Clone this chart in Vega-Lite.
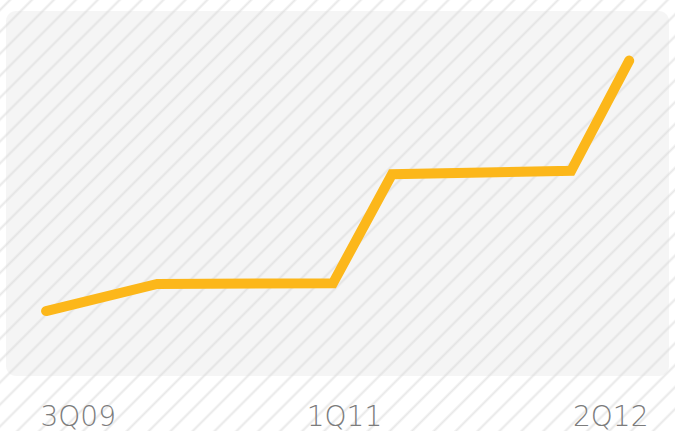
{
  "$schema": "https://vega.github.io/schema/vega-lite/v6.json",
  "width": 675,
  "height": 431,
  "autosize": {"type": "none"},
  "padding": 0,
  "background": "#ffffff",
  "view": {
    "stroke": null,
    "fill": {
      "gradient": "linear",
      "x1": 0, "y1": 0, "x2": 1.164, "y2": 0.7433,
      "stops": [
        {"offset": 0, "color": "#ffffff"},
        {"offset": 0.0064, "color": "#ffffff"}, {"offset": 0.0090, "color": "#e8e8e8"}, {"offset": 0.0115, "color": "#ffffff"},
        {"offset": 0.0262, "color": "#ffffff"}, {"offset": 0.0288, "color": "#e8e8e8"}, {"offset": 0.0313, "color": "#ffffff"},
        {"offset": 0.0460, "color": "#ffffff"}, {"offset": 0.0486, "color": "#e8e8e8"}, {"offset": 0.0511, "color": "#ffffff"},
        {"offset": 0.0659, "color": "#ffffff"}, {"offset": 0.0685, "color": "#e8e8e8"}, {"offset": 0.0710, "color": "#ffffff"},
        {"offset": 0.0857, "color": "#ffffff"}, {"offset": 0.0883, "color": "#e8e8e8"}, {"offset": 0.0908, "color": "#ffffff"},
        {"offset": 0.1055, "color": "#ffffff"}, {"offset": 0.1081, "color": "#e8e8e8"}, {"offset": 0.1106, "color": "#ffffff"},
        {"offset": 0.1253, "color": "#ffffff"}, {"offset": 0.1279, "color": "#e8e8e8"}, {"offset": 0.1304, "color": "#ffffff"},
        {"offset": 0.1451, "color": "#ffffff"}, {"offset": 0.1477, "color": "#e8e8e8"}, {"offset": 0.1502, "color": "#ffffff"},
        {"offset": 0.1650, "color": "#ffffff"}, {"offset": 0.1676, "color": "#e8e8e8"}, {"offset": 0.1701, "color": "#ffffff"},
        {"offset": 0.1848, "color": "#ffffff"}, {"offset": 0.1874, "color": "#e8e8e8"}, {"offset": 0.1899, "color": "#ffffff"},
        {"offset": 0.2046, "color": "#ffffff"}, {"offset": 0.2072, "color": "#e8e8e8"}, {"offset": 0.2097, "color": "#ffffff"},
        {"offset": 0.2244, "color": "#ffffff"}, {"offset": 0.2270, "color": "#e8e8e8"}, {"offset": 0.2295, "color": "#ffffff"},
        {"offset": 0.2442, "color": "#ffffff"}, {"offset": 0.2468, "color": "#e8e8e8"}, {"offset": 0.2493, "color": "#ffffff"},
        {"offset": 0.2641, "color": "#ffffff"}, {"offset": 0.2667, "color": "#e8e8e8"}, {"offset": 0.2692, "color": "#ffffff"},
        {"offset": 0.2839, "color": "#ffffff"}, {"offset": 0.2865, "color": "#e8e8e8"}, {"offset": 0.2890, "color": "#ffffff"},
        {"offset": 0.3037, "color": "#ffffff"}, {"offset": 0.3063, "color": "#e8e8e8"}, {"offset": 0.3088, "color": "#ffffff"},
        {"offset": 0.3235, "color": "#ffffff"}, {"offset": 0.3261, "color": "#e8e8e8"}, {"offset": 0.3286, "color": "#ffffff"},
        {"offset": 0.3433, "color": "#ffffff"}, {"offset": 0.3459, "color": "#e8e8e8"}, {"offset": 0.3484, "color": "#ffffff"},
        {"offset": 0.3632, "color": "#ffffff"}, {"offset": 0.3658, "color": "#e8e8e8"}, {"offset": 0.3683, "color": "#ffffff"},
        {"offset": 0.3830, "color": "#ffffff"}, {"offset": 0.3856, "color": "#e8e8e8"}, {"offset": 0.3881, "color": "#ffffff"},
        {"offset": 0.4028, "color": "#ffffff"}, {"offset": 0.4054, "color": "#e8e8e8"}, {"offset": 0.4079, "color": "#ffffff"},
        {"offset": 0.4226, "color": "#ffffff"}, {"offset": 0.4252, "color": "#e8e8e8"}, {"offset": 0.4277, "color": "#ffffff"},
        {"offset": 0.4424, "color": "#ffffff"}, {"offset": 0.4450, "color": "#e8e8e8"}, {"offset": 0.4475, "color": "#ffffff"},
        {"offset": 0.4623, "color": "#ffffff"}, {"offset": 0.4649, "color": "#e8e8e8"}, {"offset": 0.4674, "color": "#ffffff"},
        {"offset": 0.4821, "color": "#ffffff"}, {"offset": 0.4847, "color": "#e8e8e8"}, {"offset": 0.4872, "color": "#ffffff"},
        {"offset": 0.5019, "color": "#ffffff"}, {"offset": 0.5045, "color": "#e8e8e8"}, {"offset": 0.5070, "color": "#ffffff"},
        {"offset": 0.5217, "color": "#ffffff"}, {"offset": 0.5243, "color": "#e8e8e8"}, {"offset": 0.5268, "color": "#ffffff"},
        {"offset": 0.5415, "color": "#ffffff"}, {"offset": 0.5441, "color": "#e8e8e8"}, {"offset": 0.5466, "color": "#ffffff"},
        {"offset": 0.5614, "color": "#ffffff"}, {"offset": 0.5640, "color": "#e8e8e8"}, {"offset": 0.5665, "color": "#ffffff"},
        {"offset": 0.5812, "color": "#ffffff"}, {"offset": 0.5838, "color": "#e8e8e8"}, {"offset": 0.5863, "color": "#ffffff"},
        {"offset": 0.6010, "color": "#ffffff"}, {"offset": 0.6036, "color": "#e8e8e8"}, {"offset": 0.6061, "color": "#ffffff"},
        {"offset": 0.6208, "color": "#ffffff"}, {"offset": 0.6234, "color": "#e8e8e8"}, {"offset": 0.6259, "color": "#ffffff"},
        {"offset": 0.6406, "color": "#ffffff"}, {"offset": 0.6432, "color": "#e8e8e8"}, {"offset": 0.6457, "color": "#ffffff"},
        {"offset": 0.6605, "color": "#ffffff"}, {"offset": 0.6631, "color": "#e8e8e8"}, {"offset": 0.6656, "color": "#ffffff"},
        {"offset": 0.6803, "color": "#ffffff"}, {"offset": 0.6829, "color": "#e8e8e8"}, {"offset": 0.6854, "color": "#ffffff"},
        {"offset": 0.7001, "color": "#ffffff"}, {"offset": 0.7027, "color": "#e8e8e8"}, {"offset": 0.7052, "color": "#ffffff"},
        {"offset": 0.7199, "color": "#ffffff"}, {"offset": 0.7225, "color": "#e8e8e8"}, {"offset": 0.7250, "color": "#ffffff"},
        {"offset": 0.7397, "color": "#ffffff"}, {"offset": 0.7423, "color": "#e8e8e8"}, {"offset": 0.7448, "color": "#ffffff"},
        {"offset": 0.7596, "color": "#ffffff"}, {"offset": 0.7622, "color": "#e8e8e8"}, {"offset": 0.7647, "color": "#ffffff"},
        {"offset": 0.7794, "color": "#ffffff"}, {"offset": 0.7820, "color": "#e8e8e8"}, {"offset": 0.7845, "color": "#ffffff"},
        {"offset": 0.7992, "color": "#ffffff"}, {"offset": 0.8018, "color": "#e8e8e8"}, {"offset": 0.8043, "color": "#ffffff"},
        {"offset": 0.8190, "color": "#ffffff"}, {"offset": 0.8216, "color": "#e8e8e8"}, {"offset": 0.8241, "color": "#ffffff"},
        {"offset": 0.8388, "color": "#ffffff"}, {"offset": 0.8414, "color": "#e8e8e8"}, {"offset": 0.8439, "color": "#ffffff"},
        {"offset": 0.8587, "color": "#ffffff"}, {"offset": 0.8613, "color": "#e8e8e8"}, {"offset": 0.8638, "color": "#ffffff"},
        {"offset": 0.8785, "color": "#ffffff"}, {"offset": 0.8811, "color": "#e8e8e8"}, {"offset": 0.8836, "color": "#ffffff"},
        {"offset": 0.8983, "color": "#ffffff"}, {"offset": 0.9009, "color": "#e8e8e8"}, {"offset": 0.9034, "color": "#ffffff"},
        {"offset": 0.9181, "color": "#ffffff"}, {"offset": 0.9207, "color": "#e8e8e8"}, {"offset": 0.9232, "color": "#ffffff"},
        {"offset": 0.9379, "color": "#ffffff"}, {"offset": 0.9405, "color": "#e8e8e8"}, {"offset": 0.9430, "color": "#ffffff"},
        {"offset": 0.9578, "color": "#ffffff"}, {"offset": 0.9604, "color": "#e8e8e8"}, {"offset": 0.9629, "color": "#ffffff"},
        {"offset": 0.9776, "color": "#ffffff"}, {"offset": 0.9802, "color": "#e8e8e8"}, {"offset": 0.9827, "color": "#ffffff"},
        {"offset": 1, "color": "#ffffff"}
      ]
    }
  },
  "data": {
    "values": [
      {"t": 0.11, "value": 17.8},
      {"t": 2.12, "value": 25.2},
      {"t": 5.30, "value": 25.4},
      {"t": 6.37, "value": 55.3},
      {"t": 9.61, "value": 56.2},
      {"t": 10.66, "value": 86.4}
    ]
  },
  "resolve": {"axis": {"x": "independent", "y": "independent"}},
  "layer": [
    {
      "data": {"values": [{"panel": "plot area"}]},
      "mark": {
        "type": "rect",
        "cornerRadius": 10,
        "fill": {
          "gradient": "linear",
          "x1": 0, "y1": 0, "x2": 1.1899, "y2": 0.6551,
          "stops": [
            {"offset": 0, "color": "#f5f5f5"},
            {"offset": 0.0117, "color": "#f5f5f5"}, {"offset": 0.0145, "color": "#e4e4e4"}, {"offset": 0.0172, "color": "#f5f5f5"},
            {"offset": 0.0330, "color": "#f5f5f5"}, {"offset": 0.0358, "color": "#e4e4e4"}, {"offset": 0.0385, "color": "#f5f5f5"},
            {"offset": 0.0543, "color": "#f5f5f5"}, {"offset": 0.0571, "color": "#e4e4e4"}, {"offset": 0.0598, "color": "#f5f5f5"},
            {"offset": 0.0757, "color": "#f5f5f5"}, {"offset": 0.0785, "color": "#e4e4e4"}, {"offset": 0.0812, "color": "#f5f5f5"},
            {"offset": 0.0970, "color": "#f5f5f5"}, {"offset": 0.0998, "color": "#e4e4e4"}, {"offset": 0.1025, "color": "#f5f5f5"},
            {"offset": 0.1183, "color": "#f5f5f5"}, {"offset": 0.1211, "color": "#e4e4e4"}, {"offset": 0.1238, "color": "#f5f5f5"},
            {"offset": 0.1396, "color": "#f5f5f5"}, {"offset": 0.1424, "color": "#e4e4e4"}, {"offset": 0.1451, "color": "#f5f5f5"},
            {"offset": 0.1610, "color": "#f5f5f5"}, {"offset": 0.1638, "color": "#e4e4e4"}, {"offset": 0.1665, "color": "#f5f5f5"},
            {"offset": 0.1823, "color": "#f5f5f5"}, {"offset": 0.1851, "color": "#e4e4e4"}, {"offset": 0.1878, "color": "#f5f5f5"},
            {"offset": 0.2036, "color": "#f5f5f5"}, {"offset": 0.2064, "color": "#e4e4e4"}, {"offset": 0.2091, "color": "#f5f5f5"},
            {"offset": 0.2249, "color": "#f5f5f5"}, {"offset": 0.2277, "color": "#e4e4e4"}, {"offset": 0.2304, "color": "#f5f5f5"},
            {"offset": 0.2463, "color": "#f5f5f5"}, {"offset": 0.2491, "color": "#e4e4e4"}, {"offset": 0.2518, "color": "#f5f5f5"},
            {"offset": 0.2676, "color": "#f5f5f5"}, {"offset": 0.2704, "color": "#e4e4e4"}, {"offset": 0.2731, "color": "#f5f5f5"},
            {"offset": 0.2889, "color": "#f5f5f5"}, {"offset": 0.2917, "color": "#e4e4e4"}, {"offset": 0.2944, "color": "#f5f5f5"},
            {"offset": 0.3102, "color": "#f5f5f5"}, {"offset": 0.3130, "color": "#e4e4e4"}, {"offset": 0.3157, "color": "#f5f5f5"},
            {"offset": 0.3316, "color": "#f5f5f5"}, {"offset": 0.3344, "color": "#e4e4e4"}, {"offset": 0.3371, "color": "#f5f5f5"},
            {"offset": 0.3529, "color": "#f5f5f5"}, {"offset": 0.3557, "color": "#e4e4e4"}, {"offset": 0.3584, "color": "#f5f5f5"},
            {"offset": 0.3742, "color": "#f5f5f5"}, {"offset": 0.3770, "color": "#e4e4e4"}, {"offset": 0.3797, "color": "#f5f5f5"},
            {"offset": 0.3955, "color": "#f5f5f5"}, {"offset": 0.3983, "color": "#e4e4e4"}, {"offset": 0.4010, "color": "#f5f5f5"},
            {"offset": 0.4168, "color": "#f5f5f5"}, {"offset": 0.4196, "color": "#e4e4e4"}, {"offset": 0.4223, "color": "#f5f5f5"},
            {"offset": 0.4382, "color": "#f5f5f5"}, {"offset": 0.4410, "color": "#e4e4e4"}, {"offset": 0.4437, "color": "#f5f5f5"},
            {"offset": 0.4595, "color": "#f5f5f5"}, {"offset": 0.4623, "color": "#e4e4e4"}, {"offset": 0.4650, "color": "#f5f5f5"},
            {"offset": 0.4808, "color": "#f5f5f5"}, {"offset": 0.4836, "color": "#e4e4e4"}, {"offset": 0.4863, "color": "#f5f5f5"},
            {"offset": 0.5021, "color": "#f5f5f5"}, {"offset": 0.5049, "color": "#e4e4e4"}, {"offset": 0.5076, "color": "#f5f5f5"},
            {"offset": 0.5235, "color": "#f5f5f5"}, {"offset": 0.5263, "color": "#e4e4e4"}, {"offset": 0.5290, "color": "#f5f5f5"},
            {"offset": 0.5448, "color": "#f5f5f5"}, {"offset": 0.5476, "color": "#e4e4e4"}, {"offset": 0.5503, "color": "#f5f5f5"},
            {"offset": 0.5661, "color": "#f5f5f5"}, {"offset": 0.5689, "color": "#e4e4e4"}, {"offset": 0.5716, "color": "#f5f5f5"},
            {"offset": 0.5874, "color": "#f5f5f5"}, {"offset": 0.5902, "color": "#e4e4e4"}, {"offset": 0.5929, "color": "#f5f5f5"},
            {"offset": 0.6088, "color": "#f5f5f5"}, {"offset": 0.6116, "color": "#e4e4e4"}, {"offset": 0.6143, "color": "#f5f5f5"},
            {"offset": 0.6301, "color": "#f5f5f5"}, {"offset": 0.6329, "color": "#e4e4e4"}, {"offset": 0.6356, "color": "#f5f5f5"},
            {"offset": 0.6514, "color": "#f5f5f5"}, {"offset": 0.6542, "color": "#e4e4e4"}, {"offset": 0.6569, "color": "#f5f5f5"},
            {"offset": 0.6727, "color": "#f5f5f5"}, {"offset": 0.6755, "color": "#e4e4e4"}, {"offset": 0.6782, "color": "#f5f5f5"},
            {"offset": 0.6941, "color": "#f5f5f5"}, {"offset": 0.6969, "color": "#e4e4e4"}, {"offset": 0.6996, "color": "#f5f5f5"},
            {"offset": 0.7154, "color": "#f5f5f5"}, {"offset": 0.7182, "color": "#e4e4e4"}, {"offset": 0.7209, "color": "#f5f5f5"},
            {"offset": 0.7367, "color": "#f5f5f5"}, {"offset": 0.7395, "color": "#e4e4e4"}, {"offset": 0.7422, "color": "#f5f5f5"},
            {"offset": 0.7580, "color": "#f5f5f5"}, {"offset": 0.7608, "color": "#e4e4e4"}, {"offset": 0.7635, "color": "#f5f5f5"},
            {"offset": 0.7793, "color": "#f5f5f5"}, {"offset": 0.7821, "color": "#e4e4e4"}, {"offset": 0.7848, "color": "#f5f5f5"},
            {"offset": 0.8007, "color": "#f5f5f5"}, {"offset": 0.8035, "color": "#e4e4e4"}, {"offset": 0.8062, "color": "#f5f5f5"},
            {"offset": 0.8220, "color": "#f5f5f5"}, {"offset": 0.8248, "color": "#e4e4e4"}, {"offset": 0.8275, "color": "#f5f5f5"},
            {"offset": 0.8433, "color": "#f5f5f5"}, {"offset": 0.8461, "color": "#e4e4e4"}, {"offset": 0.8488, "color": "#f5f5f5"},
            {"offset": 0.8646, "color": "#f5f5f5"}, {"offset": 0.8674, "color": "#e4e4e4"}, {"offset": 0.8701, "color": "#f5f5f5"},
            {"offset": 0.8860, "color": "#f5f5f5"}, {"offset": 0.8888, "color": "#e4e4e4"}, {"offset": 0.8915, "color": "#f5f5f5"},
            {"offset": 0.9073, "color": "#f5f5f5"}, {"offset": 0.9101, "color": "#e4e4e4"}, {"offset": 0.9128, "color": "#f5f5f5"},
            {"offset": 0.9286, "color": "#f5f5f5"}, {"offset": 0.9314, "color": "#e4e4e4"}, {"offset": 0.9341, "color": "#f5f5f5"},
            {"offset": 0.9499, "color": "#f5f5f5"}, {"offset": 0.9527, "color": "#e4e4e4"}, {"offset": 0.9554, "color": "#f5f5f5"},
            {"offset": 0.9713, "color": "#f5f5f5"}, {"offset": 0.9741, "color": "#e4e4e4"}, {"offset": 0.9768, "color": "#f5f5f5"},
            {"offset": 0.9926, "color": "#f5f5f5"}, {"offset": 0.9954, "color": "#e4e4e4"}, {"offset": 0.9981, "color": "#f5f5f5"},
            {"offset": 1, "color": "#f5f5f5"}
          ]
        }
      },
      "encoding": {
        "x": {"datum": -0.615, "type": "quantitative", "axis": null, "scale": {"domain": [-0.7237, 11.489], "nice": false, "zero": false}},
        "x2": {"datum": 11.38},
        "y": {"datum": 0, "type": "quantitative", "axis": null, "scale": {"domain": [-15.07, 103.01], "nice": false, "zero": false}},
        "y2": {"datum": 100}
      }
    },
    {
      "mark": {
        "type": "line",
        "color": "#fcb71a",
        "strokeWidth": 10,
        "strokeCap": "round",
        "strokeJoin": "miter"
      },
      "encoding": {
        "x": {
          "field": "t",
          "type": "quantitative",
          "scale": {"domain": [-0.7237, 11.489], "nice": false, "zero": false},
          "axis": {
            "title": null,
            "values": [0, 5.5, 11],
            "labelExpr": "datum.value == 0 ? '3Q09' : datum.value == 11 ? '2Q12' : '1Q11'",
            "labelFlush": 45,
            "labelOverlap": false,
            "domain": false,
            "ticks": false,
            "tickSize": 0,
            "grid": false,
            "labelPadding": -6,
            "labelBaseline": "alphabetic",
            "labelFont": "DejaVu Sans",
            "labelFontWeight": 200,
            "labelFontSize": 28,
            "labelColor": "#7c7c7c"
          }
        },
        "y": {
          "field": "value",
          "type": "quantitative",
          "scale": {"domain": [-15.07, 103.01], "nice": false, "zero": false},
          "axis": null
        }
      }
    }
  ]
}
